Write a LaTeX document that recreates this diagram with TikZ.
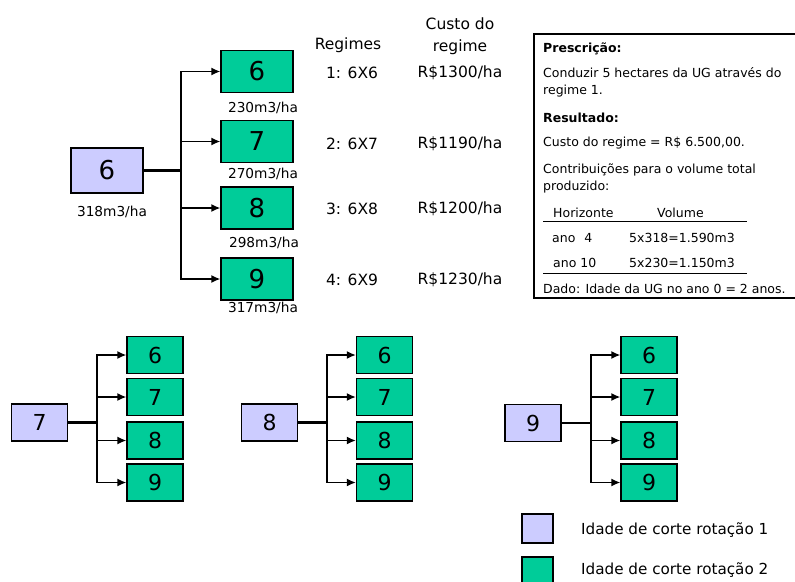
\documentclass[tikz,border=0pt]{standalone}
\usepackage{fontspec}
\setmainfont{DejaVu Sans}
\usetikzlibrary{arrows.meta, positioning}
\definecolor{rotone}{HTML}{CCCCFF}
\definecolor{rottwo}{HTML}{00CC99}

\begin{document}
\begin{tikzpicture}[
    x=1pt, y=-1pt,
    arr/.style={-{Latex[length=9pt, width=8pt]}, line width=1.4pt},
    trunk/.style={line width=2.8pt},
    rootbox/.style={rectangle, draw, line width=1.4pt, fill=rotone, inner sep=0pt},
    agebox/.style={rectangle, draw, line width=1.4pt, fill=rottwo, inner sep=0pt},
    bigbox/.style={minimum width=72pt, minimum height=42pt, font=\fontsize{26}{26}\selectfont},
    smallbox/.style={minimum width=56pt, minimum height=37pt, font=\fontsize{22}{22}\selectfont},
    vol/.style={font=\fontsize{13.7}{16}\selectfont},
    head/.style={font=\fontsize{15.5}{22}\selectfont, align=center},
    note/.style={font=\fontsize{12.5}{17}\selectfont, anchor=west, align=left, inner sep=0pt},
    leg/.style={font=\fontsize{15.2}{18}\selectfont, anchor=west, inner sep=0pt},
]
\useasboundingbox (0,0) rectangle (795,581);

% --- Rotação 1: idade 6 ---
\node[rootbox, bigbox, minimum height=45pt] (r6) at (107,170.5) {6};
\node[vol] (v6) at (112,212) {318m3/ha};
\coordinate (t6) at (181,170.5);

\node[agebox, bigbox] (c6) at (257,71.5) {6};
\node[agebox, bigbox] (c7) at (257,141.5) {7};
\node[agebox, bigbox] (c8) at (257,208) {8};
\node[agebox, bigbox] (c9) at (257,279) {9};

\node[vol] (v230) at (263,108) {230m3/ha};
\node[vol] (v270) at (263,174) {270m3/ha};
\node[vol] (v298) at (264,243) {298m3/ha};
\node[vol] (v317) at (263,308) {317m3/ha};

\draw[trunk] (r6) -- (t6);
\draw[arr] (t6) |- (c6);
\draw[arr] (t6) |- (c7);
\draw[arr] (t6) |- (c8);
\draw[arr] (t6) |- (c9);

% --- Regimes e custos ---
\node[head] (hreg) at (348,45) {Regimes};
\node[head] (hcus) at (460,36) {Custo do\\regime};

\node[head] (g1) at (352,73) {1: 6X6};
\node[head] (p1) at (460,73) {R\$1300/ha};
\node[head] (g2) at (352,144) {2: 6X7};
\node[head] (p2) at (460,144) {R\$1190/ha};
\node[head] (g3) at (352,209) {3: 6X8};
\node[head] (p3) at (460,209) {R\$1200/ha};
\node[head] (g4) at (352,280) {4: 6X9};
\node[head] (p4) at (460,280) {R\$1230/ha};

% --- Prescrição ---
\draw[line width=1.5pt] (534,34) rectangle (800,298);
\node[note] (presc) at (543,49) {\textbf{Prescrição:}};
\node[note] (cond) at (543,82.5) {Conduzir 5 hectares da UG através do\\regime 1.};
\node[note] (resu) at (543,118) {\textbf{Resultado:}};
\node[note] (cust) at (543,143) {Custo do regime = R\$ 6.500,00.};
\node[note] (contr) at (543,178.5) {Contribuições para o volume total\\produzido:};
\node[note] (hor) at (553,213) {Horizonte};
\node[note] (vlm) at (657,213) {Volume};
\node[note] (ano4) at (552,238) {ano\hspace{5pt} 4};
\node[note] (v4) at (629,238) {5x318=1.590m3};
\node[note] (ano10) at (553,263) {ano 10};
\node[note] (v10) at (629,263) {5x230=1.150m3};
\node[note] (dado) at (543,289) {Dado: Idade da UG no ano 0 = 2 anos.};
\draw[line width=1pt] (543,221) -- (747,221);
\draw[line width=1pt] (543,273) -- (747,273);

% --- Rotação 1: idade 7 ---
\node[rootbox, smallbox] (r7) at (39.5,422.5) {7};
\coordinate (t7) at (97,422.5);
\node[agebox, smallbox] (r7c6) at (155,355) {6};
\node[agebox, smallbox] (r7c7) at (155,397) {7};
\node[agebox, smallbox] (r7c8) at (155,440.5) {8};
\node[agebox, smallbox] (r7c9) at (155,482.5) {9};
\draw[trunk] (r7) -- (t7);
\draw[arr] (t7) |- (r7c6);
\draw[arr] (t7) |- (r7c7);
\draw[arr] (t7) |- (r7c8);
\draw[arr] (t7) |- (r7c9);

% --- Rotação 1: idade 8 ---
\node[rootbox, smallbox] (r8) at (269.5,422.5) {8};
\coordinate (t8) at (327,422.5);
\node[agebox, smallbox] (r8c6) at (384.5,355) {6};
\node[agebox, smallbox] (r8c7) at (384.5,397) {7};
\node[agebox, smallbox] (r8c8) at (384.5,440.5) {8};
\node[agebox, smallbox] (r8c9) at (384.5,482.5) {9};
\draw[trunk] (r8) -- (t8);
\draw[arr] (t8) |- (r8c6);
\draw[arr] (t8) |- (r8c7);
\draw[arr] (t8) |- (r8c8);
\draw[arr] (t8) |- (r8c9);

% --- Rotação 1: idade 9 ---
\node[rootbox, smallbox] (r9) at (533,423) {9};
\coordinate (t9) at (591,423);
\node[agebox, smallbox] (r9c6) at (649,355) {6};
\node[agebox, smallbox] (r9c7) at (649,397) {7};
\node[agebox, smallbox] (r9c8) at (649,440.5) {8};
\node[agebox, smallbox] (r9c9) at (649,482.5) {9};
\draw[trunk] (r9) -- (t9);
\draw[arr] (t9) |- (r9c6);
\draw[arr] (t9) |- (r9c7);
\draw[arr] (t9) |- (r9c8);
\draw[arr] (t9) |- (r9c9);

% --- Legenda ---
\node[rootbox, minimum width=31pt, minimum height=29pt] (l1) at (537.5,528.5) {};
\node[agebox, minimum width=31pt, minimum height=29pt] (l2) at (537.5,571.5) {};
\node[leg] (l1t) at (581,530) {Idade de corte rotação 1};
\node[leg] (l2t) at (581,570) {Idade de corte rotação 2};

\end{tikzpicture}
\end{document}
